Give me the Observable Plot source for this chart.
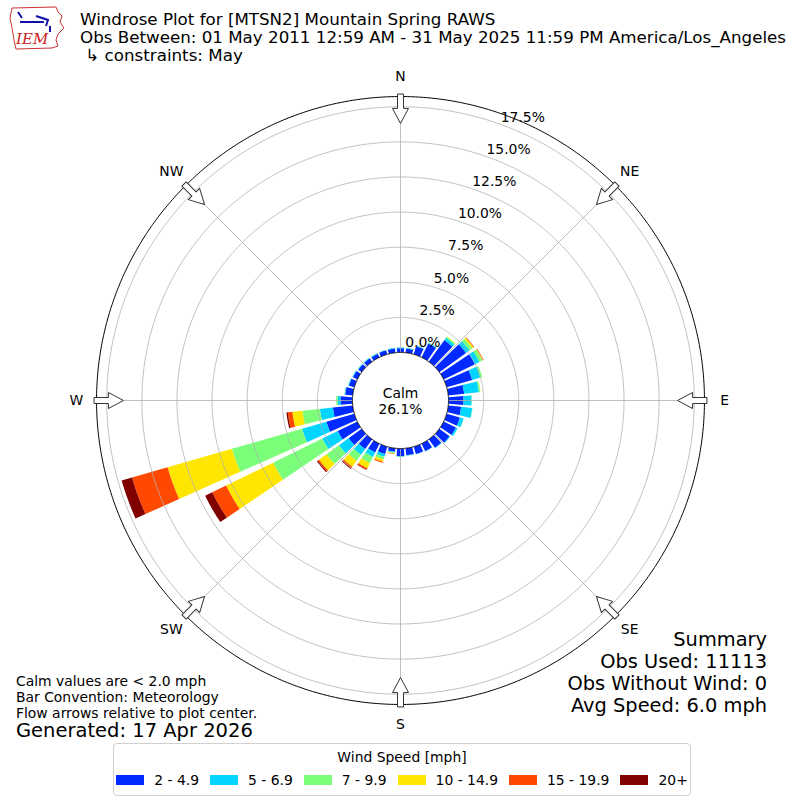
<!DOCTYPE html>
<html>
<head>
<meta charset="utf-8">
<script src="https://cdn.jsdelivr.net/npm/d3@7"></script>
<script src="https://cdn.jsdelivr.net/npm/@observablehq/plot@0.6"></script>
<style>
  body { margin: 0; background: #fff; font-family: "DejaVu Sans", sans-serif; }
  #wrap { position: relative; width: 800px; height: 800px; overflow: hidden; background: #fff; }
  #wrap > svg.plotsvg { position: absolute; left: 0; top: 0; }
  .abs { position: absolute; white-space: pre; color: #000; }
  #title { left: 80px; top: 10px; font-size: 16.7px; line-height: 18px; }
  #notes { left: 16px; top: 673px; font-size: 13.9px; line-height: 16px; }
  #gen { left: 16px; top: 721px; font-size: 19.5px; line-height: 19px; }
  #summary { right: 33px; top: 629px; font-size: 19.4px; line-height: 22px; text-align: right; }
  #legendbox { left: 113px; top: 743px; width: 578px; height: 53px; border: 1px solid #d0d0d0; border-radius: 4px; box-sizing: border-box; background: #fff; }
  #legendtitle { position: absolute; left: 0; width: 100%; top: 4px; text-align: center; font-size: 13.9px; line-height: 18px; }
  #legendrow { position: absolute; left: 0; right: 0; top: 28px; display: flex; justify-content: center; }
  .wl-swatches { font-family: "DejaVu Sans", sans-serif !important; font-size: 13.9px !important; margin: 0 !important; min-height: 0 !important; flex-wrap: nowrap !important; white-space: nowrap !important; }
  .wl-swatch { margin-right: 11px !important; white-space: nowrap !important; }
  .wl-swatch:last-child { margin-right: 0 !important; }
  .wl-swatch > svg { margin-right: 10px !important; }
  #logo { left: 6px; top: 4px; }
</style>
</head>
<body>
<div id="wrap">
  <svg id="logo" class="abs" width="60" height="48" viewBox="0 0 60 48">
    <path d="M6,4 L50,3 L52,8 L56,12 L54,18 L58,24 L52,30 L50,36 L52,42 L46,44 L10,45 L8,36 L6,24 L4,14 Z" fill="#fff" stroke="#c33" stroke-width="1"/>
    <path d="M12,8 L16,14 M14,18 L38,18 M30,12 L42,16 L40,22 M44,22 L44,28" stroke="#11a" stroke-width="2" fill="none"/>
    <text x="10" y="40" font-family="DejaVu Serif, serif" font-style="italic" font-size="15" fill="#c22">IEM</text>
  </svg>
  <div id="title" class="abs">Windrose Plot for [MTSN2] Mountain Spring RAWS
Obs Between: 01 May 2011 12:59 AM - 31 May 2025 11:59 PM America/Los_Angeles
 ↳ constraints: May</div>
  <div id="notes" class="abs">Calm values are &lt; 2.0 mph
Bar Convention: Meteorology
Flow arrows relative to plot center.</div>
  <div id="gen" class="abs">Generated: 17 Apr 2026</div>
  <div id="summary" class="abs">Summary
Obs Used: 11113
Obs Without Wind: 0
Avg Speed: 6.0 mph</div>
  <div id="legendbox" class="abs">
    <div id="legendtitle">Wind Speed [mph]</div>
    <div id="legendrow"></div>
  </div>
</div>
<script>
// ---------------- data ----------------
const directions = [0,10,20,30,40,50,60,70,80,90,100,110,120,130,140,150,160,170,180,190,200,210,220,230,240,250,260,270,280,290,300,310,320,330,340,350];
const speedBins = ["2 - 4.9", "5 - 6.9", "7 - 9.9", "10 - 14.9", "15 - 19.9", "20+"];
const binColors = ["#002aff", "#00d4ff", "#7bff7b", "#ffe600", "#ff4900", "#800000"];
// percent of observations per direction, one array per speed bin
const pct_2_5   = [0.30,0.30,0.60,1.10,1.90,2.35,2.48,1.89,1.14,1.07,0.92,0.98,0.97,0.90,0.75,0.60,0.55,0.50,0.55,0.25,0.55,0.70,0.86,1.15,1.55,2.07,1.42,0.85,0.54,0.40,0.35,0.30,0.30,0.28,0.30,0.30];
const pct_5_7   = [0.06,0.05,0.05,0.05,0.20,0.30,0.35,0.62,1.05,0.57,0.79,0.27,0.13,0.05,0.03,0.02,0.02,0.03,0.03,0.06,0.20,0.35,0.50,0.85,1.22,1.80,0.93,0.20,0.05,0.05,0.05,0.05,0.05,0.05,0.03,0.05];
const pct_7_10  = [0.02,0.02,0.02,0.03,0.10,0.25,0.25,0.13,0.10,0.03,0.03,0.02,0.01,0.00,0.00,0.00,0.00,0.00,0.02,0.05,0.20,0.50,0.53,1.10,3.91,5.20,1.25,0.11,0.02,0.02,0.01,0.01,0.01,0.02,0.01,0.01];
const pct_10_15 = [0,0,0,0,0.03,0.12,0.03,0,0.02,0,0,0,0,0,0,0,0,0,0,0.05,0.17,0.40,0.52,0.65,3.72,4.77,0.72,0,0,0,0,0,0,0,0,0];
const pct_15_20 = [0,0,0,0,0,0.05,0.05,0,0,0,0,0,0,0,0,0,0,0,0,0.02,0.08,0.12,0.13,0.12,1.10,2.63,0.33,0,0,0,0,0,0,0,0,0];
const pct_20p   = [0,0,0,0,0,0,0,0,0,0,0,0,0,0,0,0,0,0,0,0,0,0.03,0.06,0.07,0.56,0.77,0.10,0,0,0,0,0,0,0,0,0];
const calmPct = 26.1;
const ringTicks = [0, 2.5, 5, 7.5, 10, 12.5, 15, 17.5];
const compassNames = ["N", "NE", "E", "SE", "S", "SW", "W", "NW"];
const compassAngles = [0, 45, 90, 135, 180, 225, 270, 315];

// ---------------- layout (radial units = percent) ----------------
const R0 = 3.42;          // calm circle radius
const RMAX = 18.23;       // outer spine (percent)
const ROUT = R0 + RMAX;
const RDOM = 28.49;       // frame half-size
const HALF = 4;           // half bar opening, degrees
const lonOf = (theta) => 180 - theta;
const latOf = (r) => 90 - r;

const series = [pct_2_5, pct_5_7, pct_7_10, pct_10_15, pct_15_20, pct_20p];

function wedge(dir, r1, r2, props) {
  const pts = [];
  const n = 16;
  for (let j = 0; j <= n; j++) pts.push([lonOf(dir - HALF + 2 * HALF * j / n), latOf(r2)]);
  for (let j = n; j >= 0; j--) pts.push([lonOf(dir - HALF + 2 * HALF * j / n), latOf(r1)]);
  pts.push(pts[0].slice());
  const f = {type: "Feature", properties: props, geometry: {type: "Polygon", coordinates: [pts]}};
  if (d3.geoArea(f) > 2 * Math.PI) pts.reverse();
  return f;
}

const segments = [];
directions.forEach((dir, i) => {
  let c = 0;
  series.forEach((s, k) => {
    const v = s[i];
    if (v > 0) segments.push(wedge(dir, R0 + c, R0 + c + v, {bin: speedBins[k], dir}));
    c += v;
  });
});

const circle = (r) => d3.geoCircle().center([0, 90]).radius(r).precision(0.5)();
const radial = (a) => ({type: "LineString", coordinates: [[lonOf(a), latOf(R0)], [lonOf(a), latOf(ROUT)]]});

const hollowArrow = {
  draw(ctx, l) {
    const sw = 3, hw = 8, hl = 15;
    ctx.moveTo(-sw, 0);
    ctx.lineTo(-sw, -(l - hl));
    ctx.lineTo(-hw, -(l - hl));
    ctx.lineTo(0, -l);
    ctx.lineTo(hw, -(l - hl));
    ctx.lineTo(sw, -(l - hl));
    ctx.lineTo(sw, 0);
    ctx.closePath();
  }
};

const chart = Plot.plot({
  width: 800,
  height: 800,
  margin: 0,
  className: "plotsvg",
  style: {fontFamily: "DejaVu Sans, sans-serif", fontSize: "13.9px", background: "transparent", overflow: "visible"},
  projection: {type: "azimuthal-equidistant", rotate: [0, -90], domain: circle(RDOM), inset: 0},
  color: {domain: speedBins, range: binColors},
  marks: [
    Plot.geo(segments, {fill: (d) => d.properties.bin, stroke: "none"}),
    Plot.geo(ringTicks.filter((t) => t > 0), {geometry: (t) => circle(R0 + t), fill: "none", stroke: "#b0b0b0", strokeWidth: 0.8}),
    Plot.geo(compassAngles, {geometry: radial, stroke: "#b0b0b0", strokeWidth: 0.8}),
    Plot.geo([ROUT], {geometry: (r) => circle(r), fill: "none", stroke: "black", strokeWidth: 1}),
    Plot.geo([R0], {geometry: (r) => circle(r), fill: "white", stroke: "black", strokeWidth: 1}),
    Plot.text([`Calm\n${calmPct.toFixed(1)}%`], {x: () => 0, y: () => 90, text: (d) => d, fontSize: 13.9, lineHeight: 1.15, fill: "black"}),
    Plot.text(ringTicks, {x: () => lonOf(24), y: (t) => latOf(R0 + t + 0.5), dy: -8, text: (t) => t.toFixed(1) + "%", fontSize: 13.9, fill: "black"}),
    Plot.vector(compassAngles, {x: (a) => lonOf(a), y: () => latOf(ROUT + 0.15), rotate: (a) => a + 180, length: 29, anchor: "start", shape: hollowArrow, fill: "white", stroke: "#333", strokeWidth: 1}),
    Plot.text(compassAngles, {x: (a) => lonOf(a), y: () => latOf(23.08), text: (a, i) => compassNames[i], fontSize: 13.9, fill: "black"})
  ]
});
document.getElementById("wrap").prepend(chart);

const legend = Plot.legend({
  color: {domain: speedBins, range: binColors},
  legend: "swatches",
  swatchWidth: 28,
  swatchHeight: 10,
  className: "wl"
});
document.getElementById("legendrow").appendChild(legend);
</script>
</body>
</html>
